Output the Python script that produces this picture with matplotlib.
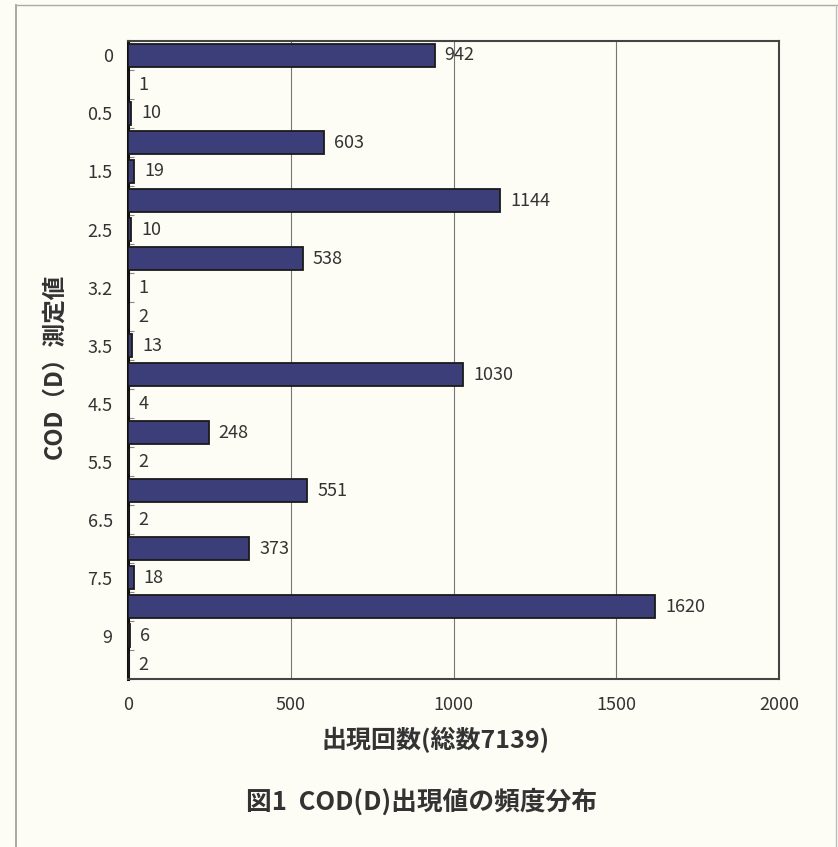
import matplotlib.pyplot as plt
from matplotlib.lines import Line2D
import numpy as np

plt.rcParams['font.family'] = ['Noto Sans CJK JP', 'DejaVu Sans']

# COD(D) measured values (only every other one is labelled on the chart)
cod_labels = ['0', '', '0.5', '', '1.5', '', '2.5', '', '3.2', '', '3.5', '',
              '4.5', '', '5.5', '', '6.5', '', '7.5', '', '9', '']
counts = [942, 1, 10, 603, 19, 1144, 10, 538, 1, 2, 13, 1030,
          4, 248, 2, 551, 2, 373, 18, 1620, 6, 2]
x_ticks = [0, 500, 1000, 1500, 2000]

bg = '#fdfdf5'
bar_color = '#3b3e78'
txt = '#333333'

fig = plt.figure(figsize=(8.38, 8.47), dpi=100, facecolor=bg)
ax = fig.add_axes((128 / 838, 1 - 679 / 847, 651 / 838, 638 / 847))
ax.set_facecolor(bg)

y = np.arange(len(counts))
ax.barh(y, counts, height=0.8, color=bar_color, edgecolor='#1a1a1a',
        linewidth=1.3, zorder=3)
for yi, c in zip(y, counts):
    ax.annotate(str(c), xy=(c, yi), xytext=(7, 0), textcoords='offset points',
                ha='left', va='center', fontsize=13, color=txt)

ax.set_ylim(len(counts) - 0.5, -0.5)
ax.set_xlim(0, 2000)
ax.set_xticks(x_ticks)
ax.set_xticklabels([str(t) for t in x_ticks])
ax.set_yticks(y)
ax.set_yticklabels(cod_labels)
ax.set_yticks(np.arange(len(counts) + 1) - 0.5, minor=True)
ax.tick_params(axis='y', which='major', length=0, pad=11, labelsize=13, labelcolor=txt)
ax.tick_params(axis='y', which='minor', direction='in', length=4, width=0.8, color='#888888')
ax.tick_params(axis='x', length=0, pad=12, labelsize=13, labelcolor=txt)

ax.grid(axis='x', color='#777777', linewidth=0.8, zorder=0)
for side in ['top', 'right', 'bottom']:
    ax.spines[side].set_color('#444444')
    ax.spines[side].set_linewidth(1.5)
ax.spines['left'].set_color('#111111')
ax.spines['left'].set_linewidth(2.2)

ax.set_ylabel('COD（D）測定値', fontsize=17, fontweight='bold', color=txt)
ax.yaxis.set_label_coords((66 - 128) / 651, 0.49)
ax.set_xlabel('出現回数(総数7139)', fontsize=18, fontweight='bold', color=txt)
ax.xaxis.set_label_coords((436 - 128) / 651, (679 - 727) / 638)

fig.text(422 / 838, 1 - 802 / 847, '図1  COD(D)出現値の頻度分布', ha='center', va='center',
         fontsize=18.5, fontweight='bold', color=txt)

# page frame lines
fig.add_artist(Line2D([16 / 838, 16 / 838], [0, 1 - 5 / 847], transform=fig.transFigure,
                      color='#999999', linewidth=1.2))
fig.add_artist(Line2D([16 / 838, 1], [1 - 5 / 847, 1 - 5 / 847], transform=fig.transFigure,
                      color='#aaaaaa', linewidth=1.0))
fig.add_artist(Line2D([836 / 838, 836 / 838], [0, 1 - 5 / 847], transform=fig.transFigure,
                      color='#bbbbbb', linewidth=1.0))

fig.savefig('out.png', dpi=100, facecolor=bg)
